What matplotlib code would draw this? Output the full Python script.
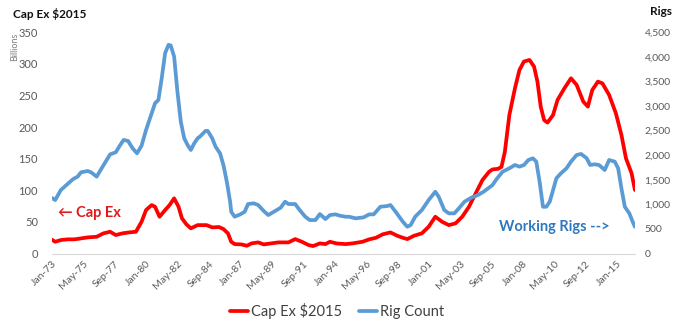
import matplotlib.pyplot as plt
import matplotlib.ticker as mticker
import pandas as pd

# capex in billions of 2015 dollars
capex_dates = ["1973-01", "1973-04", "1973-09", "1974-03", "1974-09", "1975-03", "1975-09",
               "1976-05", "1976-11", "1977-05", "1977-10", "1978-04", "1978-10", "1979-04",
               "1979-09", "1980-01", "1980-06", "1980-09", "1981-01", "1981-06", "1981-10",
               "1982-02", "1982-06", "1982-09", "1983-01", "1983-05", "1983-11", "1984-07",
               "1984-12", "1985-06", "1985-10", "1986-02", "1986-05", "1986-08", "1987-02",
               "1987-07", "1987-11", "1988-05", "1988-10", "1989-04", "1989-11", "1990-08",
               "1991-02", "1991-08", "1992-02", "1992-06", "1992-12", "1993-05", "1993-09",
               "1994-03", "1994-11", "1995-05", "1996-02", "1996-08", "1997-02", "1997-08",
               "1998-03", "1998-09", "1999-02", "1999-06", "1999-12", "2000-07", "2001-01",
               "2001-07", "2002-01", "2002-07", "2003-01", "2003-07", "2004-01", "2004-07",
               "2005-01", "2005-07", "2005-10", "2006-03", "2006-06", "2006-09", "2007-01",
               "2007-06", "2007-10", "2008-02", "2008-07", "2008-11", "2009-02", "2009-05",
               "2009-08", "2009-11", "2010-04", "2010-08", "2011-02", "2011-08", "2012-01",
               "2012-07", "2012-11", "2013-03", "2013-08", "2013-12", "2014-06", "2014-12",
               "2015-05", "2015-09", "2016-02", "2016-05"]
capex = [22, 18.7, 21.4, 22.5, 22.5, 24, 25.6,
         26.6, 32, 34.5, 29.3, 32, 33.5, 34.5,
         50.3, 68.8, 76.7, 74, 58.2, 68.8, 76.7,
         87.3, 74, 55.7, 46.2, 39.9, 45, 45,
         41.4, 42, 38.8, 32, 18.7, 15, 14.5,
         12.4, 16.1, 17.7, 14.5, 16, 17.7, 17.7,
         22.9, 18.7, 13.4, 11.9, 16.1, 15, 18.7,
         16, 15, 16.1, 18.7, 22.5, 25, 30.4,
         33.5, 28.2, 25, 22.9, 28.2, 32, 42.4,
         58.2, 50.3, 45, 47.8, 58.2, 74, 95.2,
         116.3, 129.4, 133, 134, 137, 161, 219,
         261, 290, 303.5, 306, 295.5, 271.8, 232.3,
         211, 207, 219, 242.8, 261, 277, 266.6,
         240, 232.3, 258.6, 271.8, 269, 250.7, 221.8,
         187.5, 150.6, 126.9, 100.5]

# working rigs
rig_dates = ["1973-01", "1973-04", "1973-09", "1974-02", "1974-08", "1974-12", "1975-03",
             "1975-09", "1975-12", "1976-05", "1976-09", "1977-01", "1977-05", "1977-10",
             "1978-01", "1978-05", "1978-09", "1979-01", "1979-05", "1979-09", "1980-01",
             "1980-06", "1980-09", "1980-12", "1981-03", "1981-06", "1981-09", "1981-11",
             "1982-02", "1982-05", "1982-08", "1982-11", "1983-02", "1983-05", "1983-08",
             "1983-11", "1984-01", "1984-06", "1984-08", "1984-12", "1985-03", "1985-07",
             "1985-10", "1986-01", "1986-04", "1986-05", "1986-08", "1987-01", "1987-05",
             "1987-08", "1988-01", "1988-05", "1988-10", "1989-02", "1989-07", "1990-01",
             "1990-05", "1990-08", "1991-02", "1991-06", "1991-11", "1992-03", "1992-08",
             "1992-12", "1993-05", "1993-09", "1994-02", "1994-06", "1994-11", "1995-02",
             "1995-08", "1996-03", "1996-08", "1996-12", "1997-06", "1997-12", "1998-03",
             "1998-08", "1999-02", "1999-06", "1999-09", "2000-01", "2000-07", "2001-01",
             "2001-07", "2001-10", "2002-03", "2002-07", "2002-12", "2003-04", "2003-09",
             "2004-03", "2004-09", "2005-02", "2005-10", "2006-01", "2006-07", "2007-01",
             "2007-06", "2007-10", "2008-02", "2008-06", "2008-10", "2009-01", "2009-04",
             "2009-07", "2009-10", "2010-01", "2010-04", "2010-07", "2010-11", "2011-04",
             "2011-08", "2012-01", "2012-05", "2012-10", "2013-01", "2013-05", "2013-09",
             "2014-02", "2014-06", "2014-11", "2015-02", "2015-05", "2015-08", "2015-12",
             "2016-03", "2016-05"]
rigs = [1130, 1088, 1292, 1393, 1515, 1563, 1651,
        1678, 1651, 1563, 1719, 1868, 2017, 2058,
        2173, 2309, 2288, 2139, 2037, 2193, 2512,
        2851, 3055, 3122, 3563, 4071, 4241, 4227,
        4004, 3292, 2681, 2343, 2207, 2105, 2241,
        2343, 2376, 2492, 2492, 2343, 2173, 2037,
        1800, 1461, 1054, 850, 749, 797, 850,
        1007, 1021, 987, 864, 783, 850, 932,
        1054, 1007, 1007, 885, 749, 681, 681,
        803, 702, 783, 797, 769, 749, 749,
        716, 736, 797, 797, 952, 966, 987,
        838, 647, 545, 580, 749, 885, 1088,
        1257, 1155, 885, 818, 818, 919, 1054,
        1135, 1190, 1257, 1393, 1495, 1664, 1733,
        1800, 1766, 1800, 1902, 1936, 1868, 1461,
        952, 952, 1054, 1292, 1530, 1631, 1733,
        1868, 2004, 2024, 1936, 1800, 1814, 1800,
        1698, 1902, 1868, 1733, 1326, 952, 818,
        647, 545]

tick_dates = pd.date_range("1973-01-01", periods=19, freq="28MS")

red = "#FF0000"
blue = "#5B9BD5"
gray = "#595959"
font = ["Lato", "DejaVu Sans"]
plt.rcParams["font.family"] = font

fig = plt.figure(figsize=(6.74, 3.21), dpi=100)
ax = fig.add_axes([0.077, 0.21, 0.865, 0.69])
ax2 = ax.twinx()

l1, = ax.plot(pd.to_datetime(capex_dates), capex, color=red, lw=2.7, solid_capstyle="round")
l2, = ax2.plot(pd.to_datetime(rig_dates), rigs, color=blue, lw=2.7, solid_capstyle="round")

ax.set_ylim(0, 350)
ax2.set_ylim(0, 4500)
ax.set_yticks(range(0, 351, 50))
ax2.set_yticks(range(0, 4501, 500))
ax2.yaxis.set_major_formatter(mticker.FuncFormatter(lambda v, p: f"{int(v):,}"))
ax.set_xlim(pd.Timestamp("1973-01-01"), pd.Timestamp("2016-05-01"))
ax.set_xticks(tick_dates)
ax.set_xticklabels([d.strftime("%b-%y") for d in tick_dates], rotation=45,
                   ha="right", rotation_mode="anchor")

for a in (ax, ax2):
    for s in a.spines.values():
        s.set_visible(False)
    a.tick_params(length=0, colors=gray, labelsize=8)
ax.spines["bottom"].set_visible(True)
ax.spines["bottom"].set_color("#D9D9D9")
ax.tick_params(axis="y", pad=10)
ax2.tick_params(axis="y", pad=7, labelsize=7.5)
ax.tick_params(axis="x", pad=4, labelsize=7.5)

fig.text(0.02, 0.945, "Cap Ex $2015", fontsize=8.5, fontweight="bold", color="#111111")
fig.text(0.022, 0.855, "Billions", fontsize=6.5, color="#7F7F7F", rotation=90,
         ha="center", va="center")
fig.text(0.997, 0.965, "Rigs", fontsize=8.5, fontweight="bold", color="#111111",
         ha="right", va="center")

ax.text(0.01, 0.185, "\u2190 Cap Ex", transform=ax.transAxes, color="#E31A1C",
        fontsize=10.5, fontweight="bold", va="center", family=font)
ax.text(0.767, 0.12, "Working Rigs -->", transform=ax.transAxes, color="#2E78BE",
        fontsize=10.5, fontweight="bold", va="center")

fig.legend([l1, l2], ["Cap Ex $2015", "Rig Count"], loc="lower center",
           bbox_to_anchor=(0.5, -0.035), ncol=2, frameon=False, fontsize=10.5,
           handlelength=1.2, handletextpad=0.2, columnspacing=1.2,
           labelcolor="#404040")

fig.savefig("out.png", dpi=100)
